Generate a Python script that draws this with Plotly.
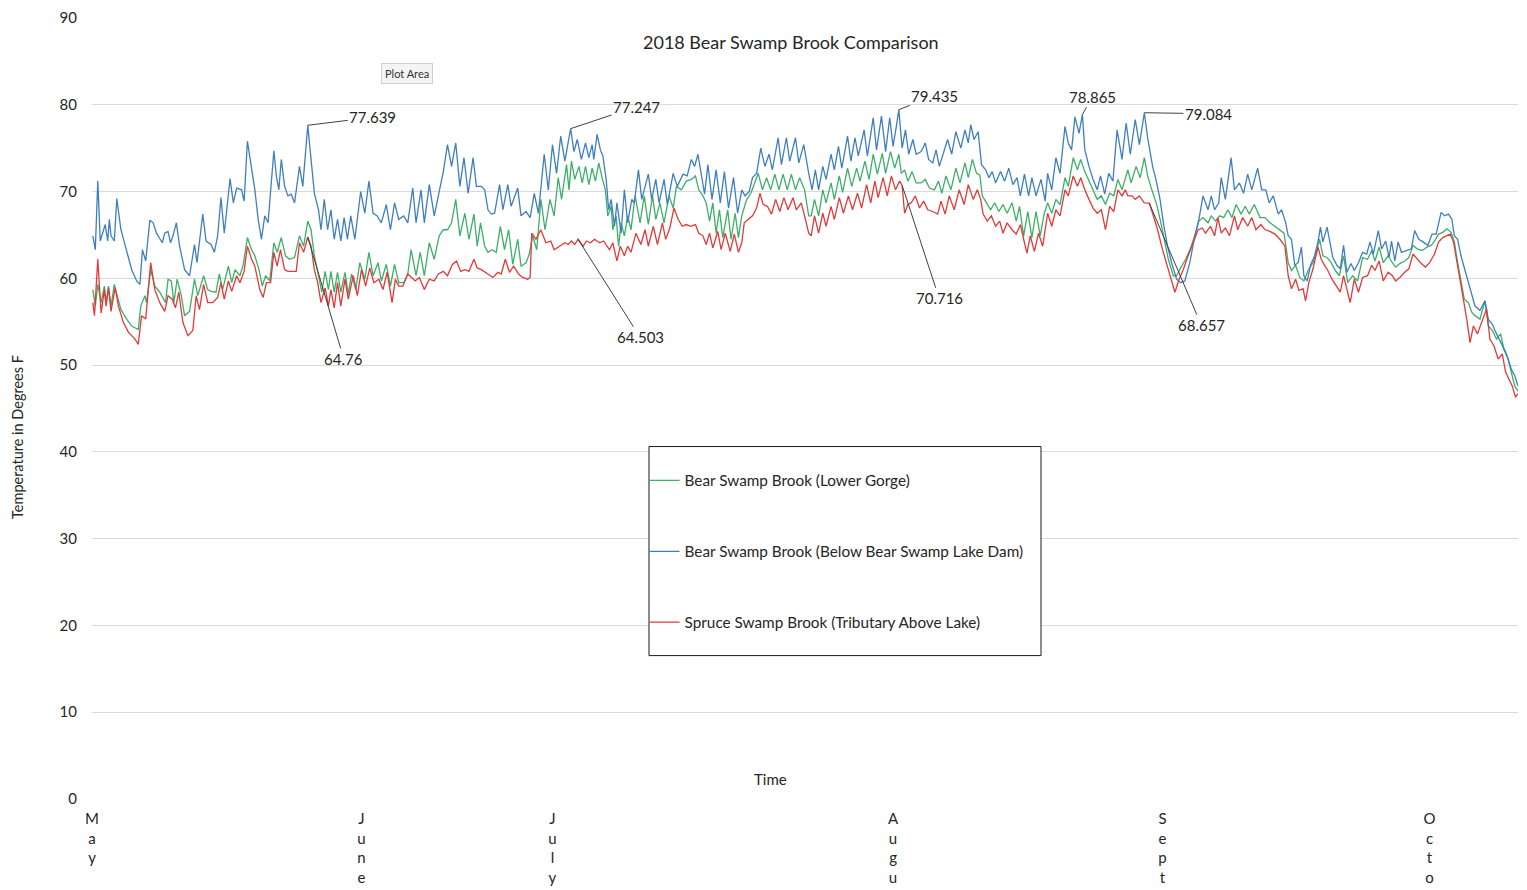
import plotly.graph_objects as go

# ---------------- data ----------------
month_ticks = [0, 32.6, 55.7, 96.9, 129.5, 161.8]
month_labels = ["May", "June", "July", "Augu", "Sept", "Octo"]

green_day = [0.1, 0.4, 0.7, 1.1, 1.5, 1.7, 2.0, 2.3, 2.7, 3.1, 3.5, 4.2, 4.8, 5.6, 5.9, 6.4, 6.6, 7.1, 7.6, 8.2,
             8.9, 9.2, 9.6, 9.9, 10.3, 10.8, 11.2, 11.8, 12.4, 12.8, 13.5, 14.0, 14.4, 15.0, 15.4, 15.8, 16.5, 16.9,
             17.3, 17.9, 18.3, 18.8, 19.3, 19.7, 20.2, 20.6, 21.0, 21.5, 22.0, 22.4, 22.9, 23.4, 23.9, 24.5, 25.1,
             25.6, 26.1, 26.5, 26.9, 27.4, 27.8, 28.2, 28.6,
             28.9, 29.3, 29.7, 30.1, 30.6, 31.0, 31.4, 31.9, 32.4, 33.0, 33.5, 34.0, 34.6, 35.0, 35.6, 36.1, 36.6,
             37.1, 37.7, 38.2, 38.6, 39.2, 39.7, 40.2, 40.8, 41.4, 42.0, 42.5, 43.0, 43.5, 44.0, 44.5, 45.1, 45.6,
             46.2, 46.6, 47.0, 47.5, 47.9, 48.4, 48.9, 49.4, 49.9, 50.4, 50.9, 51.5, 51.9, 52.5, 52.9, 53.3, 53.8,
             54.3, 54.8, 55.4, 55.9, 56.4, 56.8, 57.4, 57.7,
             58.0, 58.4, 58.9, 59.3, 59.7, 60.1, 60.5, 60.9, 61.3, 61.7, 62.1, 62.4, 62.8, 63.0, 63.4, 63.7, 64.0,
             64.4, 64.8, 65.2, 65.7, 66.3, 66.8, 67.3, 67.8, 68.2, 68.7, 69.2, 69.8, 70.3, 70.7, 71.3, 71.9, 72.5,
             73.0, 73.4, 73.9, 74.3, 74.7, 75.1, 75.5, 75.9, 76.3, 76.9, 77.3, 77.8, 78.2, 78.6, 79.2, 79.7, 80.2,
             80.6, 81.1, 81.6, 82.1, 82.6, 83.1, 83.6, 84.1, 84.6, 85.1, 85.6, 86.2, 86.7,
             87.0, 87.4, 87.9, 88.4, 88.8, 89.4, 89.8, 90.4, 90.8, 91.4, 91.9, 92.5, 92.9, 93.5, 94.0, 94.5, 95.0,
             95.6, 96.0, 96.6, 97.1, 97.6, 97.9, 98.3, 98.7, 99.2, 99.7, 100.3, 100.8, 101.3, 101.9, 102.4, 102.8,
             103.3, 103.9, 104.5, 105.0, 105.6, 106.0, 106.5, 107.0, 107.4, 107.7, 108.2, 108.7, 109.2, 109.7,
             110.2, 110.7, 111.3, 111.8, 112.2, 112.7, 113.2, 113.7, 114.2, 114.7, 115.2,
             115.6, 116.1, 116.6, 117.1, 117.7, 118.1, 118.7, 119.2, 119.6, 120.1, 120.6, 121.1, 121.6, 122.1,
             122.6, 123.1, 123.6, 124.1, 124.6, 125.3, 125.7, 126.3, 126.8, 127.3, 127.7, 128.2, 128.8, 129.3,
             129.8, 130.2, 130.8, 131.2, 131.7, 132.3, 132.9, 133.4, 133.9, 134.4, 135.0, 135.4, 135.9, 136.4,
             136.9, 137.4, 137.9, 138.4, 139.0, 139.5, 140.0, 140.6, 141.3, 141.9, 142.5, 143.1, 143.7, 144.2,
             144.7, 145.1, 145.6, 146.1, 146.6, 147.1, 147.7, 148.2, 148.5, 148.9, 149.4, 149.9, 150.4, 150.9,
             151.4, 151.9, 152.5, 153.1, 153.7, 154.3, 154.8, 155.2, 155.7, 156.2, 156.8, 157.3, 157.7, 158.2,
             158.8, 159.3, 159.8, 160.3, 160.9, 161.5, 162.0, 162.4, 162.9, 163.4, 163.9, 164.4, 164.8, 165.2,
             165.6, 166.0, 166.5, 166.9, 167.3, 167.9, 168.5, 168.9, 169.4, 169.9, 170.4, 170.8, 171.3, 171.7,
             172.1, 172.5]
green_temp = [58.7, 56.8, 59.3, 57.2, 59.1, 57.2, 59.1, 56.8, 59.3, 58.0, 56.4, 55.3, 54.5, 54.1, 56.8, 58.0, 57.2,
              61.0, 59.1, 58.4, 57.2, 59.9, 59.7, 57.2, 59.9, 58.0, 55.7, 56.2, 59.9, 58.0, 60.3, 58.7, 58.5, 58.4,
              60.5, 58.7, 61.4, 59.5, 61.0, 60.3, 61.6, 64.7, 63.3, 62.6, 61.0, 59.1, 60.3, 59.7, 64.1, 63.0, 64.7,
              62.6, 62.2, 62.4, 64.9, 63.7, 66.6, 65.6, 62.6, 60.3, 58.4, 60.8, 58.7,
              60.8, 58.4, 60.7, 58.4, 60.7, 58.2, 60.5, 58.7, 61.8, 59.9, 63.0, 60.3, 61.8, 59.7, 61.6, 59.1, 61.6,
              59.5, 59.5, 60.5, 63.3, 60.3, 63.0, 60.3, 64.1, 62.2, 64.9, 65.6, 65.6, 66.4, 69.1, 64.9, 67.5, 64.5,
              67.4, 63.7, 66.4, 63.7, 63.0, 63.3, 63.0, 66.0, 63.3, 65.6, 61.6, 64.5, 61.4, 61.8, 62.8, 64.9, 63.3,
              69.1, 65.6, 69.1, 67.2, 71.6, 69.1, 73.1, 70.2,
              73.5, 71.4, 72.9, 71.0, 72.9, 70.8, 72.7, 71.2, 73.3, 71.6, 70.2, 67.2, 68.3, 65.6, 67.2, 63.7, 66.4,
              64.9, 67.2, 65.6, 69.5, 66.4, 69.5, 66.2, 69.5, 66.8, 68.7, 66.4, 69.5, 68.1, 70.6, 70.2, 71.2, 71.4,
              71.8, 70.2, 69.5, 68.7, 66.6, 68.7, 65.2, 67.9, 64.7, 67.9, 64.5, 67.5, 64.7, 67.2, 69.1, 69.8, 71.0,
              72.1, 70.2, 71.6, 70.2, 72.0, 70.2, 72.0, 70.2, 72.0, 70.2, 71.6, 70.2, 67.2,
              67.2, 69.1, 67.2, 70.2, 68.7, 71.0, 69.1, 71.8, 69.9, 72.7, 70.6, 72.7, 71.2, 73.5, 71.4, 74.3, 72.0,
              74.4, 72.1, 74.6, 72.7, 74.3, 72.1, 72.5, 71.2, 72.3, 71.0, 71.0, 71.4, 70.4, 70.2, 71.2, 69.8,
              71.8, 70.2, 72.7, 71.0, 73.3, 71.6, 73.7, 72.1, 71.9, 69.5, 68.7, 67.9, 68.7, 67.7,
              68.5, 67.5, 68.7, 66.6, 68.3, 64.9, 67.7, 64.7, 67.7, 64.9, 67.5,
              68.7, 67.5, 69.1, 68.5, 71.6, 70.6, 73.9, 72.5, 73.7, 72.3, 71.2, 70.2, 69.1, 69.5,
              68.5, 69.8, 69.5, 71.4, 70.2, 72.5, 71.0, 72.9, 71.6, 73.9, 71.8, 70.2, 68.5, 66.4,
              64.1, 62.2, 60.3, 60.3, 61.2, 62.2, 63.5, 64.9, 66.6, 67.0, 66.4, 67.2, 66.6, 67.2,
              67.0, 67.9, 67.0, 68.5, 67.4, 68.3, 67.4, 68.5, 67.0, 67.0, 66.4, 66.0, 65.6, 65.2,
              61.8, 60.9, 61.5, 60.1, 59.7, 60.9, 61.8, 63.4, 64.5, 62.6, 62.4, 61.8, 60.9, 60.3,
              62.6, 59.5, 60.3, 59.7, 62.4, 62.2, 63.2, 62.0, 63.6, 61.8, 62.6, 61.8, 61.3, 61.7,
              62.0, 62.4, 63.8, 63.4, 63.2, 63.6, 63.8, 64.3, 65.1, 65.3, 65.7, 65.3, 64.2, 61.8,
              59.5, 57.6, 57.2, 56.1, 55.7, 55.3, 57.4, 54.5, 54.0, 53.0, 53.6, 51.8, 50.7, 49.2,
              47.6, 47.0]

blue_day = [0.1, 0.4, 0.7, 1.0, 1.6, 1.9, 2.1, 2.3, 2.7, 3.0, 3.5, 4.2, 4.8, 5.4, 5.8, 6.1, 6.5, 7.0, 7.4, 7.8,
            8.5, 8.8, 9.2, 9.5, 9.8, 10.2, 10.6, 11.2, 11.8, 12.4, 12.7, 13.4, 13.8, 14.4, 14.8, 15.2, 15.6, 16.0,
            16.7, 17.1, 17.5, 18.1, 18.4, 18.8, 19.3, 19.7, 20.1, 20.5, 20.9, 21.3, 22.0, 22.3, 22.6, 22.9, 23.3,
            23.7, 24.1, 24.5, 25.1, 25.5, 26.1, 26.6, 26.9, 27.4, 27.7, 28.1,
            28.5, 28.9, 29.3, 29.7, 30.1, 30.5, 30.9, 31.3, 31.8, 32.5, 33.0, 33.5, 34.0, 34.5, 35.0, 35.6, 36.1,
            36.6, 37.1, 37.7, 38.2, 38.8, 39.2, 39.8, 40.2, 40.8, 41.4, 42.0, 42.5, 43.0, 43.5, 44.0, 44.5, 45.0,
            45.5, 46.1, 46.5, 47.1, 47.5, 47.9, 48.3, 48.7, 49.3, 49.7, 50.3, 50.7, 51.5, 51.9, 52.5, 53.0, 53.5,
            54.0, 54.7, 55.2, 55.7, 56.2, 56.7, 57.2,
            57.9, 58.3, 58.7, 59.2, 59.7, 60.1, 60.5, 60.7, 61.1, 61.5, 61.8, 62.2, 62.5, 62.8, 63.2, 63.5, 64.0,
            64.4, 64.8, 65.3, 65.6, 66.1, 66.5, 67.3, 67.7, 68.2, 68.6, 69.2, 69.6, 70.3, 70.8, 71.5, 72.0, 72.5,
            72.9, 73.3, 73.7, 74.1, 74.5, 75.0, 75.5, 76.0, 76.5, 77.0, 77.6, 78.1, 78.6, 79.0, 79.5, 79.9, 80.4,
            80.9, 81.4, 81.9, 82.3, 83.0, 83.4, 84.0, 84.4, 85.1, 85.5, 86.1, 86.7,
            87.1, 87.5, 87.9, 88.4, 88.8, 89.4, 89.8, 90.3, 90.7, 91.4, 91.8, 92.3, 92.7, 93.4, 93.8, 94.5, 94.9,
            95.5, 96.0, 96.5, 96.9, 97.3, 97.6, 98.0, 98.4, 98.8, 99.3, 99.7, 100.3, 100.8, 101.2, 101.7, 102.1,
            102.5, 103.0, 103.5, 104.0, 104.5, 105.1, 105.6, 106.0, 106.3, 106.7, 107.2, 107.6, 108.1, 108.5,
            108.9, 109.3, 109.9, 110.4, 110.9, 111.4, 111.9, 112.3, 112.8, 113.3, 113.7, 114.2, 114.8, 115.3,
            115.6, 116.1, 116.6, 117.1, 117.7, 118.1, 118.5, 118.9, 119.4, 119.8, 120.1, 120.6, 121.1, 121.6,
            122.0, 122.5, 123.0, 123.5, 124.0, 124.6, 125.1, 125.6, 126.2, 126.7, 127.3, 127.7, 128.3, 128.7,
            129.2, 129.6, 130.1, 130.6, 131.2, 131.7, 132.2, 132.8, 133.4, 133.9, 134.4, 135.0, 135.4, 135.8,
            136.3, 136.6, 137.1, 137.8, 138.2, 138.8, 139.3, 139.8, 140.3, 141.0, 141.5, 142.0, 142.4, 142.9,
            143.5, 143.9, 144.4,
            144.7, 145.1, 145.5, 145.9, 146.3, 146.6, 147.0, 147.4, 147.9, 148.3, 148.6, 148.9, 149.4, 149.7,
            150.1, 150.6, 151.0, 151.4, 151.8, 152.3, 152.7, 153.2, 153.7, 154.2, 154.6, 155.0, 155.6, 156.0,
            156.5, 156.9, 157.2, 157.6, 158.0, 158.4, 159.0, 159.6, 160.0, 160.5, 161.0, 161.6, 162.1, 162.6,
            163.2, 163.6, 164.1, 164.5, 164.8, 165.2, 165.6, 166.1, 166.5, 166.9, 167.3, 167.9, 168.5, 168.9,
            169.4, 169.8, 170.2, 170.6, 171.0, 171.3, 171.7, 172.1, 172.5]
blue_temp = [64.9, 63.3, 71.2, 64.3, 66.2, 64.3, 66.8, 64.9, 64.3, 69.2, 65.6, 63.0, 61.0, 59.7, 59.3, 63.3, 62.0,
             66.7, 66.4, 65.2, 64.1, 65.2, 65.4, 64.1, 64.9, 66.4, 63.7, 61.0, 60.3, 63.9, 61.8, 67.4, 64.3, 63.9,
             63.0, 64.9, 69.3, 65.2, 71.5, 68.7, 70.4, 70.2, 68.9, 75.8, 72.9, 70.2, 66.8, 64.5, 67.2, 66.4, 74.7,
             71.8, 70.2, 73.7, 70.6, 69.5, 69.7, 68.7, 72.9, 70.6, 77.639, 72.9, 69.8, 67.9, 65.6, 69.1,
             65.6, 67.9, 64.5, 66.8, 64.3, 67.0, 64.5, 67.2, 64.5, 70.0, 67.5, 71.2, 67.5, 67.2, 66.4, 68.5, 65.6,
             68.7, 66.8, 67.2, 66.4, 70.4, 66.4, 70.2, 66.4, 70.8, 67.2, 70.0, 72.3, 75.4, 72.9, 75.6, 70.6, 73.9,
             69.8, 73.9, 70.6, 70.6, 70.2, 67.9, 67.4, 67.5, 70.8, 67.9, 70.8, 68.3, 70.4, 67.2, 67.7, 67.0, 69.8,
             67.5, 74.3, 70.2, 75.4, 72.1, 76.4, 73.5,
             77.247, 74.6, 76.0, 73.7, 75.6, 73.9, 75.4, 73.7, 76.6, 74.8, 74.1, 71.4, 67.9, 69.1, 66.0, 68.7, 65.2,
             70.2, 66.4, 69.1, 68.7, 72.5, 69.1, 72.0, 69.1, 71.4, 68.7, 71.4, 68.5, 72.1, 70.6, 72.0, 71.8, 73.7,
             72.9, 74.3, 71.8, 69.7, 73.1, 69.1, 72.5, 68.7, 72.3, 68.1, 71.6, 67.5, 70.2, 69.5, 70.0, 71.6, 72.1,
             75.0, 72.9, 74.3, 72.5, 76.2, 73.1, 76.2, 73.5, 76.2, 73.3, 75.4, 72.1,
             70.2, 72.5, 70.2, 72.9, 71.4, 74.3, 72.5, 75.2, 72.7, 76.4, 73.5, 76.2, 74.1, 77.1, 74.1, 78.5, 74.8,
             78.7, 74.6, 78.5, 75.2, 77.5, 79.435, 75.0, 77.1, 74.3, 76.0, 74.3, 74.6, 75.6, 73.7, 73.3, 74.8,
             72.9, 74.4, 76.0, 74.3, 76.9, 75.0, 77.1, 75.6, 77.7, 76.0, 76.9, 73.1, 72.5, 71.6,
             72.3, 71.0, 72.3, 71.2, 72.7, 70.8, 71.6, 69.5, 72.0, 69.5, 71.6, 69.5, 71.4, 68.9,
             72.1, 70.2, 73.9, 72.1, 77.5, 75.6, 74.8, 78.6, 76.7, 78.865, 74.8, 72.9, 71.4, 70.2,
             71.8, 69.7, 72.1, 71.2, 77.1, 73.7, 77.9, 74.3, 78.3, 75.4, 79.084, 76.2, 72.9, 71.4,
             69.1, 66.4, 63.7, 61.8, 59.9, 59.5, 59.7, 61.8, 64.9, 66.8, 69.5, 67.9, 69.5, 67.9,
             68.7, 71.6, 69.1, 73.9, 70.2, 71.0, 69.8, 72.0, 70.2, 72.7, 70.2, 70.2, 68.7, 69.5,
             67.4, 67.9, 66.4,
             64.9, 64.5, 61.5, 61.8, 63.6, 60.3, 59.7, 61.5, 62.6, 64.2, 65.9, 64.2, 65.9, 64.2,
             62.4, 61.5, 61.1, 63.8, 60.7, 61.7, 60.9, 61.8, 63.0, 62.8, 64.2, 62.8, 65.5, 63.4,
             64.3, 62.4, 64.3, 62.0, 64.2, 63.0, 63.2, 63.4, 65.5, 64.5, 64.2, 63.8, 65.1, 65.1,
             67.6, 67.2, 67.4, 66.8, 64.9, 64.5, 62.6, 60.9, 59.5, 58.0, 56.8, 56.3, 57.4, 55.3,
             54.7, 53.8, 53.0, 52.2, 51.5, 50.7, 49.5, 48.8, 47.6]

red_day = [0.1, 0.3, 0.7, 1.1, 1.5, 1.7, 2.0, 2.3, 2.8, 3.2, 3.8, 4.4, 5.2, 5.6, 6.0, 6.5, 7.1, 7.6, 8.2, 8.8,
           9.2, 9.7, 10.1, 10.5, 11.0, 11.6, 12.2, 12.6, 13.0, 13.5, 14.0, 14.6, 15.2, 15.6, 16.0, 16.5, 16.9,
           17.5, 17.9, 18.4, 18.8, 19.3, 19.7, 20.3, 20.7, 21.1, 21.6, 22.0, 22.4, 22.8, 23.3, 23.7, 24.2, 24.7,
           25.1, 25.6, 26.1, 26.5, 26.9, 27.3, 27.7, 28.2, 28.6,
           28.9, 29.3, 29.7, 30.1, 30.6, 31.0, 31.6, 32.1, 32.6, 33.1, 33.6, 34.1, 34.7, 35.2, 35.7, 36.3, 36.7,
           37.1, 37.6, 38.2, 38.6, 39.1, 39.6, 40.2, 40.8, 41.4, 41.9, 42.5, 43.0, 43.6, 44.1, 44.6, 45.1, 45.6,
           46.2, 46.6, 47.1, 47.8, 48.5, 49.1, 49.5, 50.0, 50.5, 51.0, 51.6, 52.1, 52.7, 53.0, 53.2, 53.7, 54.3,
           54.9, 55.5, 55.9, 56.6, 57.2,
           57.6, 58.0, 58.4, 58.8, 59.4, 59.8, 60.3, 60.8, 61.4, 61.9, 62.3, 62.6, 63.0, 63.5, 63.9, 64.4, 64.8,
           65.2, 65.8, 66.4, 66.9, 67.3, 67.9, 68.4, 69.0, 69.4, 69.9, 70.4, 70.9, 71.4, 71.9, 72.4, 73.0, 73.4,
           73.9, 74.3, 74.7, 75.1, 75.7, 76.1, 76.6, 77.2, 77.7, 78.2, 78.6, 78.9, 79.4, 79.9, 80.4, 80.8, 81.2,
           81.7, 82.2, 82.7, 83.2, 83.7, 84.2, 84.8, 85.2, 85.8, 86.3, 86.7,
           87.0, 87.4, 87.9, 88.4, 88.8, 89.4, 89.8, 90.4, 90.9, 91.5, 92.0, 92.6, 93.1, 93.7, 94.2, 94.7, 95.1,
           95.7, 96.2, 96.7, 97.2, 97.7, 98.0, 98.3, 98.7, 99.1, 99.6, 100.1, 100.6, 101.1, 101.7, 102.3, 102.7,
           103.2, 103.7, 104.3, 104.9, 105.5, 106.0, 106.6, 107.1, 107.5, 107.8, 108.3, 108.8, 109.3, 109.8,
           110.2, 110.7, 111.3, 111.8, 112.3, 112.8, 113.1, 113.5, 114.0, 114.5, 115.0,
           115.6, 116.1, 116.6, 117.1, 117.7, 118.1, 118.7, 119.2, 119.6, 120.1, 120.6, 121.1, 121.6, 122.1,
           122.6, 123.1, 123.6, 124.1, 124.6, 125.0, 125.3, 125.8, 126.2, 126.7, 127.3, 127.9, 128.3, 128.9,
           129.5, 130.1, 130.6, 131.0, 131.5, 132.0, 132.6, 133.2, 133.8, 134.3, 134.7, 135.3, 135.8, 136.2,
           136.6, 137.1, 137.6, 138.2, 138.6, 139.2, 139.8, 140.3, 140.8, 141.4, 141.9, 142.5, 143.1, 143.7,
           144.3,
           144.7, 145.1, 145.6, 146.0, 146.5, 146.8, 147.2, 147.7, 148.3, 148.7, 149.1, 149.5, 150.0, 150.5,
           151.0, 151.4, 151.8, 152.2, 152.7, 153.2, 153.7, 154.3, 154.8, 155.2, 155.7, 156.2, 156.8, 157.3,
           157.7, 158.2, 158.8, 159.3, 159.8, 160.3, 160.8, 161.3, 161.8, 162.4, 162.9, 163.4, 163.9, 164.3,
           164.7, 165.1, 165.5, 165.9, 166.3, 166.7, 167.1, 167.6, 168.2, 168.7, 169.1, 169.6, 170.1, 170.6,
           171.0, 171.4, 171.8, 172.2, 172.5]
red_temp = [57.2, 55.7, 62.2, 56.0, 58.7, 56.8, 58.9, 56.2, 58.9, 56.8, 54.9, 53.8, 53.0, 52.4, 55.7, 55.3, 61.8,
            58.7, 57.2, 56.2, 58.0, 57.6, 56.6, 58.4, 54.9, 53.4, 54.0, 58.0, 56.4, 59.3, 57.2, 57.2, 57.8, 59.5,
            57.6, 59.7, 58.5, 60.3, 59.5, 60.8, 63.7, 62.2, 61.4, 58.7, 57.8, 59.5, 59.5, 63.0, 61.4, 63.3, 61.0,
            60.8, 60.8, 60.8, 64.1, 63.0, 64.76, 63.7, 61.0, 59.5, 57.2, 58.9, 56.8,
            58.7, 56.6, 59.5, 56.8, 59.9, 57.6, 60.3, 58.0, 61.0, 59.1, 61.2, 59.5, 59.9, 58.7, 60.7, 57.2, 59.9,
            59.1, 59.1, 60.5, 60.1, 59.7, 60.1, 58.7, 59.9, 59.7, 60.5, 60.8, 60.3, 61.6, 62.0, 60.8, 61.0, 60.8,
            62.2, 61.2, 61.0, 60.5, 60.1, 60.7, 60.5, 62.2, 60.7, 61.4, 60.5, 60.1, 59.9, 60.1, 65.2, 64.5, 65.6,
            64.1, 64.3, 63.3, 63.7, 64.1,
            63.9, 64.3, 63.9, 64.503, 63.7, 64.3, 64.1, 64.5, 64.1, 64.3, 63.7, 63.3, 64.1, 62.0, 63.7, 62.6, 63.7,
            63.0, 65.2, 63.9, 65.6, 63.7, 66.0, 63.9, 66.4, 64.5, 65.8, 68.1, 66.8, 66.0, 66.2, 66.0, 66.2, 65.2,
            64.9, 63.9, 65.2, 63.5, 65.4, 63.3, 65.2, 63.1, 65.1, 63.0, 64.1, 66.4, 66.8, 67.2, 68.1, 69.8, 68.5,
            68.3, 67.4, 69.1, 67.7, 69.3, 67.9, 69.3, 67.9, 68.7, 66.8, 65.2,
            64.9, 67.2, 65.2, 67.5, 66.0, 68.3, 66.8, 69.3, 67.5, 69.5, 67.9, 69.8, 68.1, 70.8, 68.7, 71.2, 69.3,
            71.6, 69.5, 71.8, 70.2, 71.2, 70.716, 67.5, 68.5, 68.7, 69.5, 68.1, 68.9, 67.9, 67.7, 67.4, 68.9,
            67.4, 69.5, 67.9, 70.2, 68.5, 70.8, 69.1, 70.2, 69.1, 67.4, 66.6, 67.2, 66.0, 66.6,
            65.2, 66.4, 65.6, 65.1, 66.2, 64.1, 62.9, 64.9, 63.1, 65.2, 63.7,
            67.5, 66.0, 67.9, 67.2, 70.2, 69.5, 71.8, 70.6, 71.6, 70.2, 69.1, 68.1, 67.5, 67.9,
            65.6, 68.3, 67.7, 70.2, 69.5, 70.2, 69.5, 69.5, 69.1, 69.5, 68.7, 68.657, 67.5, 65.6,
            63.3, 61.4, 59.9, 58.4, 59.9, 61.0, 62.6, 64.1, 65.6, 65.8, 65.2, 66.0, 64.9, 67.0,
            65.2, 65.8, 64.9, 67.2, 65.6, 67.0, 66.0, 67.0, 65.6, 66.2, 65.6, 65.4, 65.1, 64.5,
            63.7,
            60.3, 58.8, 59.9, 58.6, 58.8, 57.4, 59.5, 61.1, 63.6, 62.2, 61.5, 60.9, 59.9, 59.2,
            58.4, 60.3, 58.8, 57.2, 59.9, 58.4, 60.1, 60.3, 61.5, 60.9, 62.0, 59.7, 60.7, 60.3,
            59.7, 60.1, 60.7, 61.1, 62.8, 62.2, 61.7, 61.3, 61.8, 62.8, 64.2, 64.7, 64.9, 65.1,
            64.2, 62.0, 59.9, 57.6, 55.3, 52.6, 54.5, 53.6, 55.3, 56.5, 53.0, 52.2, 50.7, 51.3,
            49.2, 48.4, 47.6, 46.3, 46.7]

series_names = ["Bear Swamp Brook (Lower Gorge)",
                "Bear Swamp Brook (Below Bear Swamp Lake Dam)",
                "Spruce Swamp Brook (Tributary Above Lake)"]
series_colors = ["#3fae6a", "#3f7fbf", "#e03a3a"]

# data labels (series index, day, value)
label_series = [1, 2, 1, 2, 1, 2, 1, 1, 2]
label_day = [26.1, 26.1, 57.9, 58.8, 97.6, 98.0, 119.8, 127.3, 127.9]
label_value = [77.639, 64.76, 77.247, 64.503, 79.435, 70.716, 78.865, 79.084, 68.657]
label_offset = [(65, -8), (36, 122), (66, -22), (62, 98), (36, -14), (37, 113), (10, -18), (64, 1), (52, 122)]

# ---------------- figure ----------------
FONT = "Lato, 'Open Sans', sans-serif"
TXT = "#262626"

fig = go.Figure()
series = [(green_day, green_temp), (blue_day, blue_temp), (red_day, red_temp)]
for i, (xs, ys) in enumerate(series):
    fig.add_trace(go.Scatter(x=xs, y=ys, mode="lines", name=series_names[i],
                             legendgroup=f"g{i}",
                             line=dict(color=series_colors[i], width=1.3)))

for s, d, v, (ax, ay) in zip(label_series, label_day, label_value, label_offset):
    fig.add_annotation(x=d, y=v, xref="x", yref="y", text=f"{v:g}", showarrow=True,
                       arrowhead=0, arrowwidth=1, arrowcolor="#404040", ax=ax, ay=ay,
                       font=dict(family=FONT, size=15, color=TXT))

# chart title, axis titles, "Plot Area" tooltip
fig.add_annotation(x=0.490, y=0.969, xref="paper", yref="paper", showarrow=False,
                   xanchor="center", yanchor="middle",
                   text="2018 Bear Swamp Brook Comparison",
                   font=dict(family=FONT, size=18, color=TXT))
fig.add_annotation(x=0.4755, y=0.0256, xref="paper", yref="paper", showarrow=False,
                   xanchor="center", yanchor="middle",
                   text="Time", font=dict(family=FONT, size=15, color=TXT))
fig.add_annotation(x=-0.0526, y=0.4635, xref="paper", yref="paper", showarrow=False,
                   xanchor="center", yanchor="middle",
                   text="Temperature in Degrees F", textangle=-90,
                   font=dict(family=FONT, size=14.5, color=TXT))
fig.add_annotation(x=0.221, y=0.929, xref="paper", yref="paper", showarrow=False,
                   xanchor="center", yanchor="middle",
                   text="Plot Area", bgcolor="#f4f4f4", bordercolor="#d0d0d0", borderwidth=1,
                   borderpad=3, font=dict(family=FONT, size=11, color="#333333"))

# legend frame
fig.add_shape(type="rect", xref="paper", yref="paper", x0=0.3906, x1=0.6655, y0=0.1836, y1=0.4513,
              line=dict(color="#1a1a1a", width=1), fillcolor="white", layer="above")
# outer chart border on the left
fig.add_shape(type="line", xref="paper", yref="paper", x0=-0.0603, x1=-0.0603, y0=-0.14, y1=1.03,
              line=dict(color="#e3e3e3", width=1))

fig.update_layout(
    width=1519, height=882,
    margin=dict(l=84, r=9, t=10, b=91),
    paper_bgcolor="white", plot_bgcolor="white",
    font=dict(family=FONT, color=TXT),
    showlegend=True,
    legend=dict(x=0.3875, y=0.429, xanchor="left", yanchor="top",
                bgcolor="rgba(0,0,0,0)", borderwidth=0, tracegroupgap=48,
                font=dict(family=FONT, size=15.3, color=TXT)),
)
fig.update_xaxes(range=[0, 172.5], showgrid=False, zeroline=False, showline=False, automargin=False,
                 tickmode="array", tickvals=month_ticks,
                 ticktext=["<br>".join(list(m)) for m in month_labels],
                 ticks="", tickfont=dict(family=FONT, size=15, color=TXT), ticklabelstandoff=9)
fig.update_yaxes(range=[0, 90], dtick=10, showgrid=True, gridcolor="#d9d9d9", gridwidth=1,
                 zeroline=False, showline=False, ticks="", automargin=False,
                 tickfont=dict(family=FONT, size=15, color=TXT), ticklabelstandoff=14)

fig.write_html("out.html")
